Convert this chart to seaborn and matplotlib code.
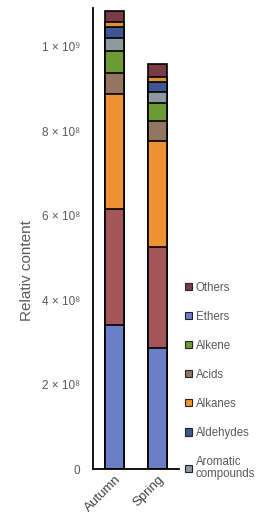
import numpy as np
import pandas as pd
import matplotlib
matplotlib.use("Agg")
import matplotlib.pyplot as plt
from matplotlib.patches import Patch
import seaborn as sns

seasons = ["Autumn", "Spring"]
# stacking order, bottom to top (values in units of 1e8)
categories = ["Ethers", "Esters", "Alkanes", "Acids", "Alkene",
              "Aromatic compounds", "Aldehydes", "Alcohols", "Others"]
autumn = [3.41, 2.75, 2.73, 0.50, 0.50, 0.33, 0.24, 0.12, 0.26]
spring = [2.87, 2.39, 2.51, 0.47, 0.43, 0.26, 0.24, 0.12, 0.31]
colors = ["#6a7fc6", "#a35559", "#ee9233", "#937661", "#6e9a33",
          "#8c9aa0", "#3e5791", "#e09030", "#7b3b44"]
legend_labels = ["Others", "Ethers", "Alkene", "Acids", "Alkanes",
                 "Aldehydes", "Aromatic\ncompounds"]
legend_keys = ["Others", "Ethers", "Alkene", "Acids", "Alkanes",
               "Aldehydes", "Aromatic compounds"]
ytick_vals = [0, 2e8, 4e8, 6e8, 8e8, 1e9]
ytick_labels = ["0", "2 × 10⁸", "4 × 10⁸", "6 × 10⁸", "8 × 10⁸", "1 × 10⁹"]

sns.set_theme(style="white")
plt.rcParams["font.family"] = ["Liberation Sans", "DejaVu Sans"]

rows = []
for s, vals in zip(seasons, [autumn, spring]):
    cum = np.cumsum(vals) * 1e8
    for c, v, t in zip(categories, vals, cum):
        rows.append({"season": s, "category": c, "value": v * 1e8, "top": t})
df = pd.DataFrame(rows)

fig = plt.figure(figsize=(2.68, 5.25), dpi=100)
ax = fig.add_axes([93 / 268, 1 - 469 / 525, 86 / 268, 461 / 525])

color_map = dict(zip(categories, colors))
for cat in reversed(categories):
    sub = df[df["category"] == cat]
    sns.barplot(data=sub, x="season", y="top", order=seasons,
                color=color_map[cat], saturation=1, edgecolor="black",
                linewidth=1.2, width=0.42, errorbar=None, ax=ax)

ax.set_xlim(-0.5, 1.5)
ax.set_ylim(0, 1.092e9)
ax.set_yticks(ytick_vals, ytick_labels)
ax.tick_params(axis="y", length=0, pad=9, labelsize=8.5, labelcolor="#595959")
ax.tick_params(axis="x", length=0, pad=3, labelsize=9.5, labelcolor="#404040")
for lab in ax.get_xticklabels():
    lab.set_rotation(45)
    lab.set_ha("right")
    lab.set_rotation_mode("anchor")
ax.set_xlabel("")
ax.set_ylabel("Relativ content", fontsize=11, color="#595959")
ax.yaxis.set_label_coords(-0.69, 0.43)
for sp in ["top", "right"]:
    ax.spines[sp].set_visible(False)
for sp in ["left", "bottom"]:
    ax.spines[sp].set_color("black")
    ax.spines[sp].set_linewidth(1.3)

handles = [Patch(facecolor=color_map[k], edgecolor="#222222", linewidth=0.8)
           for k in legend_keys]
leg = fig.legend(handles, legend_labels, loc="upper left",
                 bbox_to_anchor=(180 / 268, 1 - 277 / 525), frameon=False,
                 fontsize=8.3, labelspacing=1.48, handlelength=0.6,
                 handleheight=0.6, handletextpad=0.35, borderaxespad=0)
texts = leg.get_texts()
for t in texts:
    t.set_color("#595959")
texts[-1].set_linespacing(1.0)

fig.savefig("out.png", dpi=100)
